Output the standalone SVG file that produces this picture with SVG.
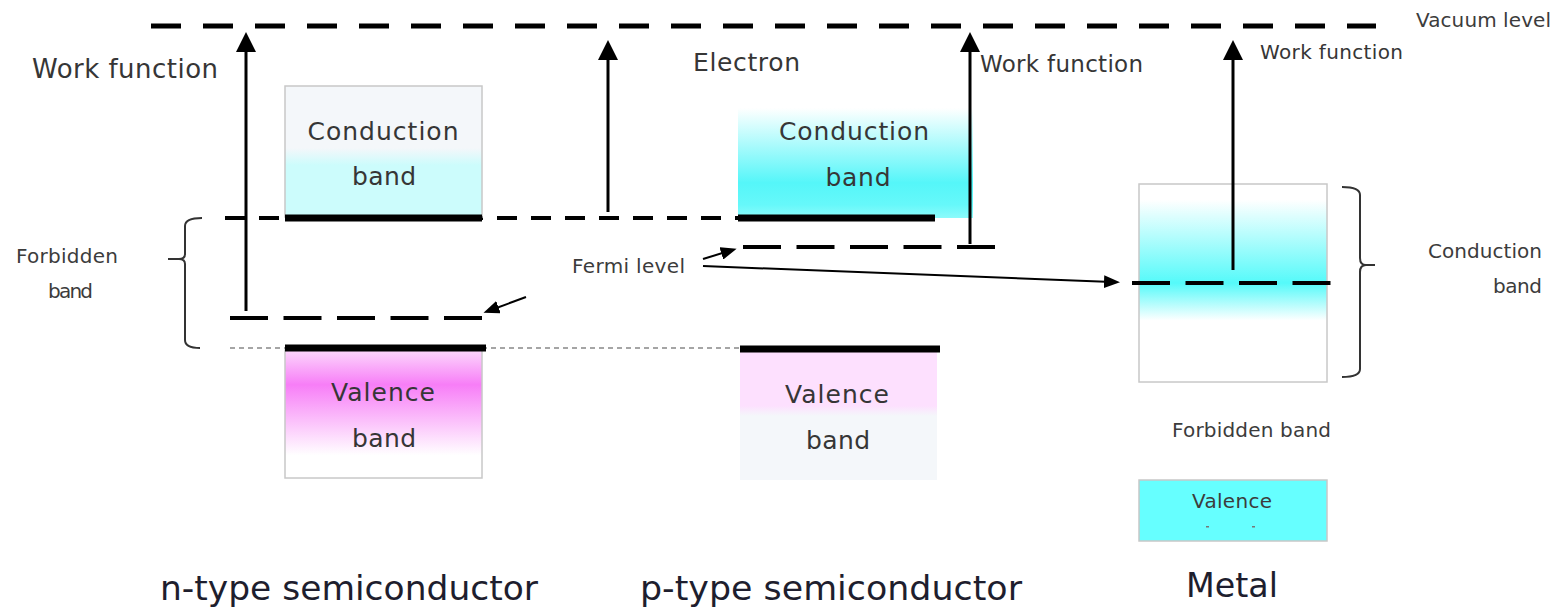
<svg xmlns="http://www.w3.org/2000/svg" width="1557" height="607" viewBox="0 0 1557 607">
<style>
text{font-family:"DejaVu Sans","Liberation Sans",sans-serif;fill:#363636}
.lbl{font-size:20px;fill:#3c3c3c}
.big{font-size:25px}
.title{font-size:34px;fill:#1e1e2e}
.box{stroke:#c8c8c8;stroke-width:1.5}
.bar{stroke:#000;stroke-width:7}
.lvl{stroke:#000;stroke-width:4;fill:none;stroke-dasharray:38 15.5}
.arr{stroke:#000;stroke-width:3;fill:none;marker-end:url(#head)}
.arrs{stroke:#000;stroke-width:2;fill:none;marker-end:url(#hsm)}
.brace{stroke:#333;stroke-width:2;fill:none}
</style>
<defs>
<marker id="head" markerUnits="userSpaceOnUse" markerWidth="20" markerHeight="20" refX="10" refY="10" orient="auto"><path d="M0,0 L20,10 L0,20 z" fill="#000"/></marker>
<marker id="hsm" markerUnits="userSpaceOnUse" markerWidth="16" markerHeight="13" refX="8" refY="6.5" orient="auto"><path d="M0,0 L16,6.5 L0,13 z" fill="#000"/></marker>
<linearGradient id="gncb" gradientUnits="userSpaceOnUse" x1="0" y1="86" x2="0" y2="218"><stop offset="0" stop-color="#f4f7fa"/><stop offset="0.47" stop-color="#f4f7fa"/><stop offset="0.6" stop-color="#ccfcfc"/><stop offset="1" stop-color="#ccfcfc"/></linearGradient>
<linearGradient id="gpcb" gradientUnits="userSpaceOnUse" x1="0" y1="108" x2="0" y2="218"><stop offset="0" stop-color="#ffffff"/><stop offset="0.68" stop-color="#55f6f9"/><stop offset="0.88" stop-color="#66f8fa"/><stop offset="1" stop-color="#8cfbfb"/></linearGradient>
<linearGradient id="gmet" gradientUnits="userSpaceOnUse" x1="0" y1="184" x2="0" y2="382"><stop offset="0" stop-color="#ffffff"/><stop offset="0.08" stop-color="#ffffff"/><stop offset="0.5" stop-color="#55fafa"/><stop offset="0.69" stop-color="#ffffff"/><stop offset="1" stop-color="#ffffff"/></linearGradient>
<linearGradient id="gnvb" gradientUnits="userSpaceOnUse" x1="0" y1="352" x2="0" y2="478"><stop offset="0" stop-color="#fcd2fc"/><stop offset="0.26" stop-color="#f77ef7"/><stop offset="0.82" stop-color="#ffffff"/><stop offset="1" stop-color="#ffffff"/></linearGradient>
<linearGradient id="gpvb" gradientUnits="userSpaceOnUse" x1="0" y1="352" x2="0" y2="480"><stop offset="0" stop-color="#fde0fe"/><stop offset="0.42" stop-color="#fde0fe"/><stop offset="0.5" stop-color="#f4f7fa"/><stop offset="1" stop-color="#f4f7fa"/></linearGradient>
</defs>
<rect width="1557" height="607" fill="#fff"/>

<g id="levels">
<line x1="151" y1="26" x2="1376" y2="26" stroke="#000" stroke-width="5" stroke-dasharray="30 22"/>
<line x1="225" y1="218" x2="738" y2="218" stroke="#000" stroke-width="4" stroke-dasharray="20 14"/>
<line x1="230" y1="348" x2="740" y2="348" stroke="#888" stroke-width="1.5" stroke-dasharray="5 4"/>
</g>

<g id="n-conduction">
<rect class="box" x="285" y="86" width="197" height="131" fill="url(#gncb)"/>
<line class="bar" x1="285" y1="218" x2="482" y2="218"/>
<text class="big" x="383" y="140" text-anchor="middle" textLength="151">Conduction</text>
<text class="big" x="384" y="185" text-anchor="middle" textLength="64">band</text>
</g>

<g id="n-valence">
<rect class="box" x="285" y="350" width="197" height="128" fill="url(#gnvb)"/>
<line class="bar" x1="285" y1="348" x2="486" y2="348"/>
<text class="big" x="383" y="401" text-anchor="middle" textLength="104">Valence</text>
<text class="big" x="384" y="447" text-anchor="middle" textLength="64">band</text>
</g>

<g id="n-fermi">
<line class="lvl" x1="230" y1="318" x2="484" y2="318"/>
</g>

<g id="p-conduction">
<rect x="738" y="108" width="235" height="110" fill="url(#gpcb)"/>
<line class="bar" x1="738" y1="218" x2="935" y2="218"/>
<text class="big" x="854" y="140" text-anchor="middle" textLength="150">Conduction</text>
<text class="big" x="858" y="186" text-anchor="middle" textLength="65">band</text>
</g>

<g id="p-valence">
<rect x="740" y="352" width="197" height="128" fill="url(#gpvb)"/>
<line class="bar" x1="740" y1="349" x2="940" y2="349"/>
<text class="big" x="837" y="403" text-anchor="middle" textLength="104">Valence</text>
<text class="big" x="838" y="449" text-anchor="middle" textLength="64">band</text>
</g>

<g id="p-fermi">
<line class="lvl" x1="743" y1="247" x2="996" y2="247"/>
</g>

<g id="metal-conduction">
<rect class="box" x="1139" y="184" width="188" height="198" fill="url(#gmet)"/>
<line class="lvl" x1="1132" y1="283" x2="1332" y2="283"/>
</g>

<g id="metal-valence">
<rect class="box" x="1139" y="480" width="188" height="61" fill="#66ffff"/>
<text class="lbl" x="1232" y="508" text-anchor="middle" textLength="80">Valence</text>
<rect x="1206" y="526" width="3" height="1.5" fill="#777"/>
<rect x="1252" y="526" width="3" height="1.5" fill="#777"/>
</g>

<g id="braces">
<path class="brace" d="M202,218 Q185,218 185,226 L185,254 Q185,259 179,259 L168,259 M179,259 Q185,259 185,264 L185,340 Q185,348 200,348"/>
<path class="brace" d="M1342,187 Q1360,187 1360,195 L1360,258 Q1360,265 1366,265 L1375,265 M1366,265 Q1360,265 1360,272 L1360,369 Q1360,377 1342,377"/>
</g>

<g id="connectors">
<line class="arr" x1="246" y1="311" x2="246" y2="42"/>
<line class="arr" x1="608" y1="212" x2="608" y2="50"/>
<line class="arr" x1="970" y1="244" x2="970" y2="42"/>
<line class="arr" x1="1233" y1="270" x2="1233" y2="50"/>
<line class="arrs" x1="526" y1="297" x2="491" y2="310"/>
<line class="arrs" x1="703" y1="259" x2="729" y2="251"/>
<line class="arrs" x1="703" y1="266" x2="1112" y2="282"/>
</g>

<g id="labels">
<text class="lbl" x="1416" y="27" font-size="18" textLength="135">Vacuum level</text>
<text x="32" y="78" font-size="26" textLength="186">Work function</text>
<text x="693" y="71" font-size="25" textLength="107">Electron</text>
<text x="980" y="72" font-size="23" textLength="163">Work function</text>
<text x="1260" y="59" font-size="20" textLength="143">Work function</text>
<text class="lbl" x="16" y="263" textLength="102">Forbidden</text>
<text class="lbl" x="48" y="298" textLength="45">band</text>
<text class="lbl" x="572" y="273" textLength="113">Fermi level</text>
<text class="lbl" x="1542" y="258" text-anchor="end" textLength="114">Conduction</text>
<text class="lbl" x="1542" y="293" text-anchor="end" textLength="49">band</text>
<text class="lbl" x="1172" y="437" textLength="159">Forbidden band</text>
</g>

<g id="titles">
<text class="title" x="160" y="600" textLength="378" lengthAdjust="spacingAndGlyphs">n-type semiconductor</text>
<text class="title" x="640" y="600" textLength="382" lengthAdjust="spacingAndGlyphs">p-type semiconductor</text>
<text class="title" x="1232" y="597" text-anchor="middle" textLength="92" lengthAdjust="spacingAndGlyphs">Metal</text>
</g>
</svg>
